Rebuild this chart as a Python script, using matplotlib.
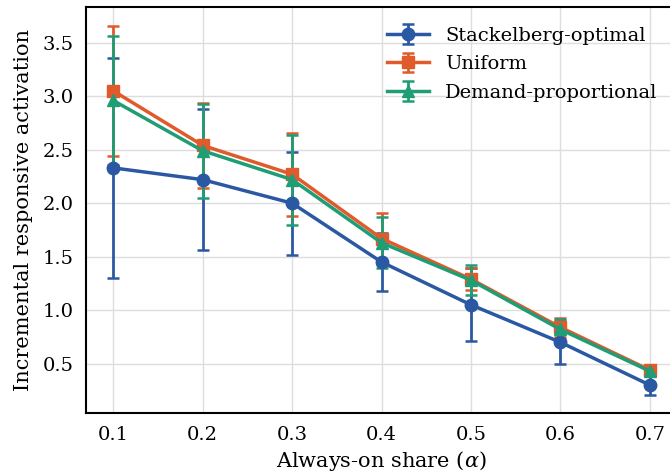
import numpy as np
import matplotlib
matplotlib.use("Agg")
import matplotlib.pyplot as plt

# always-on share
alpha = [0.1, 0.2, 0.3, 0.4, 0.5, 0.6, 0.7]

# mean incremental responsive activation and error bar half-widths
stack_mean = [2.33, 2.22, 2.00, 1.45, 1.05, 0.70, 0.30]
stack_err = [1.03, 0.66, 0.48, 0.27, 0.34, 0.20, 0.09]

unif_mean = [3.05, 2.54, 2.27, 1.67, 1.29, 0.84, 0.44]
unif_err = [0.61, 0.40, 0.39, 0.24, 0.10, 0.09, 0.02]

dem_mean = [2.96, 2.49, 2.22, 1.63, 1.28, 0.82, 0.43]
dem_err = [0.60, 0.44, 0.42, 0.24, 0.14, 0.10, 0.02]

labels = ["Stackelberg-optimal", "Uniform", "Demand-proportional"]
colors = ["#2b58a2", "#e05a2b", "#1f9d74"]
markers = ["o", "s", "^"]

plt.rcParams['font.family'] = 'DejaVu Serif'
plt.rcParams['mathtext.fontset'] = 'dejavuserif'

fig = plt.figure(figsize=(6.7, 4.76), dpi=100)
ax = fig.add_axes([0.129, 0.132, 0.881, 0.853])

series = [(stack_mean, stack_err), (unif_mean, unif_err), (dem_mean, dem_err)]
for (m, e), lab, c, mk in zip(series, labels, colors, markers):
    ax.errorbar(alpha, m, yerr=e, color=c, marker=mk, ms=9, lw=2.5,
                elinewidth=2, capsize=4.5, capthick=1.8, label=lab)

ax.set_xticks(alpha)
ax.set_yticks(np.arange(0.5, 3.6, 0.5))
ax.tick_params(length=0, labelsize=14, pad=9)
ax.grid(True, color='#dddddd', lw=1)
ax.set_axisbelow(True)
for sp in ax.spines.values():
    sp.set_linewidth(1.5)
    sp.set_color('black')

ax.set_xlabel(r"Always-on share ($\alpha$)", fontsize=15, labelpad=4)
ax.set_ylabel("Incremental responsive activation", fontsize=15, labelpad=7)
ax.legend(loc='upper right', frameon=False, fontsize=14, handlelength=2.2,
          borderaxespad=0.6, labelspacing=0.55)

fig.savefig("out.png", dpi=100)
